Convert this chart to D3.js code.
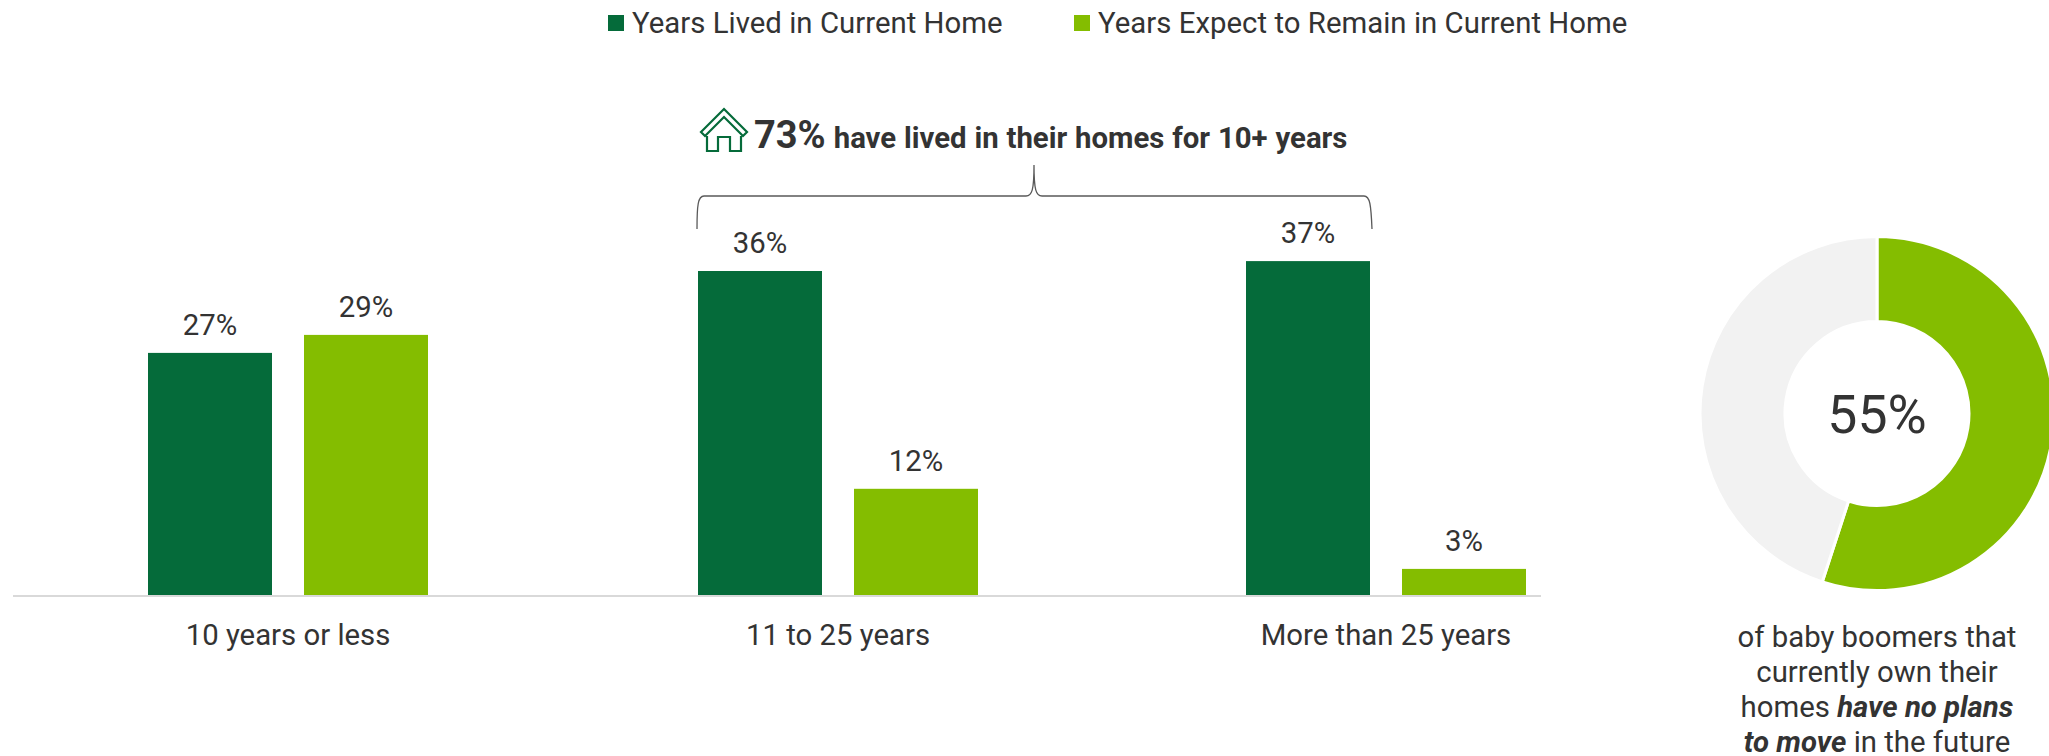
<!DOCTYPE html>
<html><head><meta charset="utf-8">
<script src="https://cdn.jsdelivr.net/npm/d3@7/dist/d3.min.js"></script>
<style>html,body{margin:0;padding:0;background:#fff;overflow:hidden}svg{display:block}text{font-family:Roboto,sans-serif;fill:#333}</style>
</head><body><svg id="c" width="2049" height="756"></svg>
<script>
const categories = ["10 years or less","11 to 25 years","More than 25 years"];
const seriesNames = ["Years Lived in Current Home","Years Expect to Remain in Current Home"];
const lived = [26.9,36,37.1];
const remain = [28.9,11.8,2.9];
const donutValues = [55,45];
const colors = ["#056b3a","#84bd00"];
const donutColors = ["#84bd00","#f2f2f2"];

const svg = d3.select("#c");
const y = d3.scaleLinear().domain([0,37]).range([595,262]);
const x0 = d3.scaleOrdinal().domain(categories).range([288,838,1386]);
const x1 = d3.scaleBand().domain([0,1]).range([-140,140]).paddingInner(32/156);
const fs = 29.33;

svg.append("line").attr("x1",13).attr("x2",1541).attr("y1",596).attr("y2",596).attr("stroke","#d9d9d9").attr("stroke-width",2);

[lived,remain].forEach((vals,s)=>{
  const g = svg.append("g");
  vals.forEach((v,i)=>{
    const bx = x0(categories[i])+x1(s);
    g.append("rect").attr("x",bx).attr("y",y(v)).attr("width",x1.bandwidth()).attr("height",y(0)-y(v)).attr("fill",colors[s]);
    g.append("text").attr("x",bx+x1.bandwidth()/2).attr("y",y(v)-18).attr("text-anchor","middle").attr("font-size",fs).text(Math.round(v)+"%");
  });
});
categories.forEach(c=>{
  svg.append("text").attr("x",x0(c)).attr("y",645).attr("text-anchor","middle").attr("font-size",fs).text(c);
});

// legend
const legX=[608,1074], legTextX=[632,1098];
seriesNames.forEach((n,i)=>{
  svg.append("rect").attr("x",legX[i]).attr("y",15).attr("width",16).attr("height",16).attr("fill",colors[i]);
  svg.append("text").attr("x",legTextX[i]).attr("y",33).attr("font-size",fs).attr("letter-spacing",0.03).text(n);
});

// callout
const call = svg.append("text").attr("x",754).attr("y",148);
call.append("tspan").attr("font-size",38).attr("font-weight",700).text("73%");
call.append("tspan").attr("font-size",fs).attr("font-weight",700).attr("dx",8).attr("word-spacing",0.6).text("have lived in their homes for 10+ years");

// house icon
const h = svg.append("g").attr("fill","none").attr("stroke","#056b3a").attr("stroke-width",2.2).attr("transform","translate(700,108)");
h.append("path").attr("d","M1 24 L24 1 L47 24 L43 28 L24 9 L5 28 Z");
h.append("path").attr("d","M7 28 V43 H18 V29 H30 V43 H41 V28");

// brace
svg.append("path").attr("fill","none").attr("stroke","#595959").attr("stroke-width",1.3)
  .attr("d","M697 229 C697 205 698 196 704 196 H1026 C1032 196 1034 190 1034 165 C1034 190 1036 196 1042 196 H1364 C1370 196 1371 205 1372 229");

// donut
const pie = d3.pie().sort(null).value(d=>d);
const arc = d3.arc().innerRadius(92).outerRadius(177);
const dg = svg.append("g").attr("transform","translate(1877,413.5)");
dg.selectAll("path").data(pie(donutValues)).join("path").attr("d",arc)
  .attr("fill",(d,i)=>donutColors[i]).attr("stroke","#fff").attr("stroke-width",3);
svg.append("text").attr("x",1877).attr("y",433).attr("text-anchor","middle").attr("font-size",53.5).text("55%");

const lines=[[["of baby boomers that",0]],[["currently own their",0]],[["homes ",0],["have no plans",1]],[["to move",1],[" in the future",0]]];
lines.forEach((l,i)=>{
  const t=svg.append("text").attr("x",1877).attr("y",647+i*35).attr("text-anchor","middle").attr("font-size",fs).attr("xml:space","preserve");
  l.forEach(p=>{const s=t.append("tspan").text(p[0]); if(p[1]) s.attr("font-weight",700).attr("font-style","italic");});
});
</script></body></html>
